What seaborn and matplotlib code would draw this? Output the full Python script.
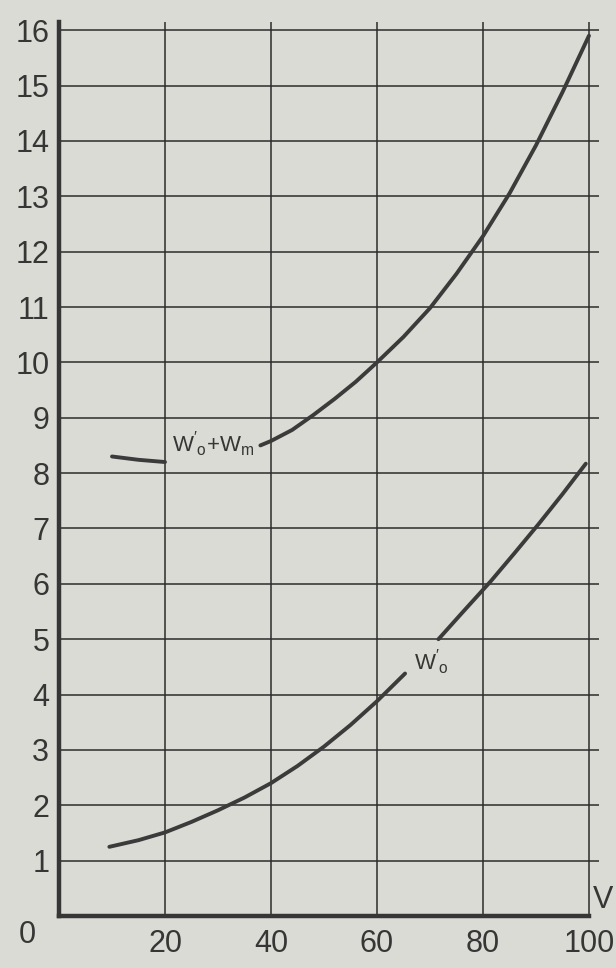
import matplotlib
matplotlib.use("Agg")
import matplotlib.pyplot as plt
import seaborn as sns

# ------------------------------------------------------------------
# DATA
# ------------------------------------------------------------------
# W'o + Wm, short piece left of the label
V_WM_LOW = [10, 15, 20]
W_WM_LOW = [8.30, 8.24, 8.20]
# W'o + Wm, main piece right of the label
V_WM_HIGH = [38, 40, 44, 48, 52, 56, 60, 65, 70, 75, 80, 85, 90, 95, 100]
W_WM_HIGH = [8.50, 8.58, 8.78, 9.05, 9.34, 9.65, 10.0, 10.46, 10.98, 11.6,
             12.28, 13.05, 13.92, 14.88, 15.9]

# W'o, piece below the label
V_WO_LOW = [9.5, 15, 20, 25, 30, 35, 40, 45, 50, 55, 60, 65.3]
W_WO_LOW = [1.25, 1.37, 1.51, 1.70, 1.91, 2.14, 2.40, 2.71, 3.06, 3.45, 3.88, 4.38]
# W'o, piece above the label
V_WO_HIGH = [71.6, 76, 81.5, 86, 90.5, 95, 99.4]
W_WO_HIGH = [5.0, 5.47, 6.05, 6.56, 7.08, 7.62, 8.17]

X_TICKS = [20, 40, 60, 80, 100]
Y_TICKS = list(range(1, 17))

# ------------------------------------------------------------------
# STYLE
# ------------------------------------------------------------------
PAPER = "#dadbd4"
INK = "#363636"
CURVE = "#3b3b3b"

sns.set_style("white")
plt.rcParams["font.family"] = ["Liberation Sans", "DejaVu Sans"]
plt.rcParams["mathtext.fontset"] = "custom"
plt.rcParams["mathtext.rm"] = "Liberation Sans"
plt.rcParams["mathtext.default"] = "regular"

fig = plt.figure(figsize=(6.16, 9.68), dpi=100, facecolor=PAPER)
ax = fig.add_axes([0.0958, 0.0537, 0.8758, 0.9237])
ax.set_facecolor(PAPER)

# ------------------------------------------------------------------
# CURVES
# ------------------------------------------------------------------
for xs, ys in [(V_WM_LOW, W_WM_LOW), (V_WM_HIGH, W_WM_HIGH),
               (V_WO_LOW, W_WO_LOW), (V_WO_HIGH, W_WO_HIGH)]:
    sns.lineplot(x=xs, y=ys, ax=ax, color=CURVE, linewidth=2.8,
                 estimator=None, sort=False, solid_capstyle="round",
                 solid_joinstyle="round", zorder=3)

ax.text(21.3, 8.52, r"$W'_{o}{+}W_{m}$", fontsize=16, color=INK,
        ha="left", va="center", zorder=4)
ax.text(67.0, 4.58, r"$W'_{o}$", fontsize=16, color=INK,
        ha="left", va="center", zorder=4)

# ------------------------------------------------------------------
# AXES, GRID, LABELS
# ------------------------------------------------------------------
ax.set_xlim(0, 101.8)
ax.set_ylim(0, 16.15)
ax.set_xticks(X_TICKS)
ax.set_yticks(Y_TICKS)
ax.tick_params(axis="both", length=0, labelsize=22, colors=INK)
ax.tick_params(axis="x", pad=9)
ax.tick_params(axis="y", pad=7)
ax.grid(True, color="#2c2c2c", linewidth=1.1)
ax.set_axisbelow(True)

sns.despine(ax=ax, top=True, right=True)
for side in ["left", "bottom"]:
    ax.spines[side].set_color(INK)
    ax.spines[side].set_linewidth(3.2)
    ax.spines[side].set_zorder(5)
ax.spines["bottom"].set_bounds(0, 100)

ax.set_xlabel("")
ax.set_ylabel("")
ax.annotate("0", xy=(0, 0), xytext=(-23, -14), textcoords="offset points",
            fontsize=22, color=INK, ha="center", va="center",
            annotation_clip=False)
ax.annotate("V", xy=(100, 0), xytext=(3, 1), textcoords="offset points",
            fontsize=22, color=INK, ha="left", va="bottom",
            annotation_clip=False)

plt.savefig("out.png", dpi=100, facecolor=PAPER)
plt.close()
